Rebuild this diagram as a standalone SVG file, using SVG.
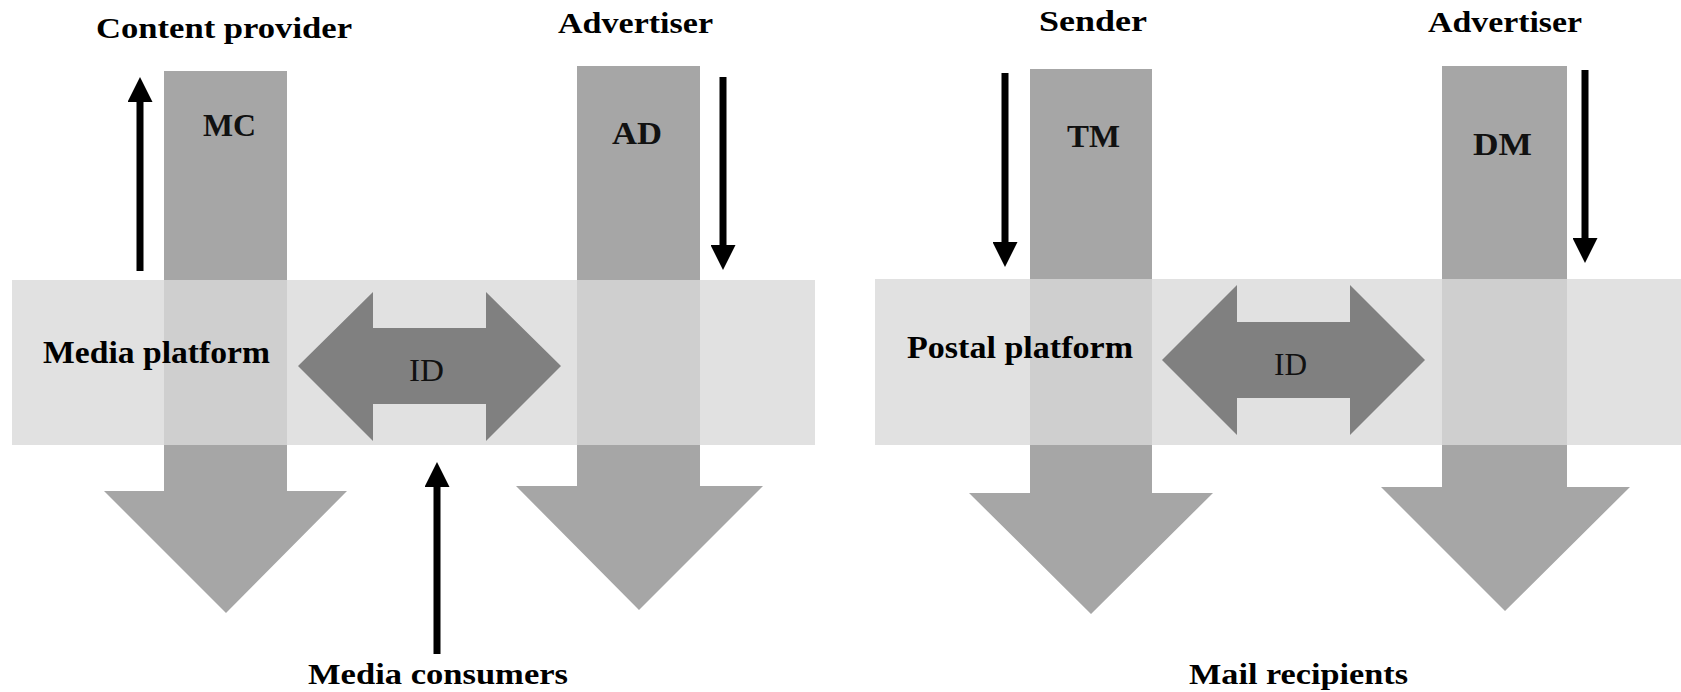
<svg xmlns="http://www.w3.org/2000/svg" width="1681" height="692" viewBox="0 0 1681 692">
<style>
.bar{fill:#a6a6a6}
.band{fill:#d9d9d9;fill-opacity:0.8}
.id{fill:#808080}
.lbl{font-family:"Liberation Serif",serif;font-weight:bold;font-size:30px;fill:#000}
.in{font-family:"Liberation Serif",serif;font-weight:bold;font-size:32px;fill:#111}
.idt{font-family:"Liberation Serif",serif;font-size:32px;fill:#111}
.arr{stroke:#000;stroke-width:7;fill:none}
</style>
<defs>
<marker id="ah" viewBox="0 0 25 25" markerWidth="25" markerHeight="25" refX="5" refY="12.5" orient="auto" markerUnits="userSpaceOnUse">
<path d="M0,0 L25,12.5 L0,25 z" fill="#000"/>
</marker>
</defs>
<rect width="1681" height="692" fill="#fff"/>

<g id="bar-mc"><path class="bar" d="M164,71 H287 V491 H347 L226,613 L104,491 H164 Z"/></g>
<g id="bar-ad"><path class="bar" d="M577,66 H700 V486 H763 L639,610 L516,486 H577 Z"/></g>
<g id="bar-tm"><path class="bar" d="M1030,69 H1152 V493 H1213 L1091,614 L969,493 H1030 Z"/></g>
<g id="bar-dm"><path class="bar" d="M1442,66 H1567 V487 H1630 L1505,611 L1381,487 H1442 Z"/></g>

<g id="media-platform">
<rect class="band" x="12" y="280" width="803" height="165"/>
<text class="lbl" x="43" y="363" textLength="227" lengthAdjust="spacingAndGlyphs" style="font-size:32px">Media platform</text>
</g>
<g id="postal-platform">
<rect class="band" x="875" y="279" width="806" height="166"/>
<text class="lbl" x="907" y="358" textLength="226" lengthAdjust="spacingAndGlyphs" style="font-size:32px">Postal platform</text>
</g>

<g id="id-left">
<path class="id" d="M298,366 L373,292 V328 H486 V292 L561,366 L486,441 V404 H373 V441 Z"/>
<text class="idt" x="409" y="381" textLength="35" lengthAdjust="spacingAndGlyphs">ID</text>
</g>
<g id="id-right">
<path class="id" d="M1162,360 L1237,285 V322 H1350 V285 L1425,360 L1350,435 V398 H1237 V435 Z"/>
<text class="idt" x="1274" y="375" textLength="33" lengthAdjust="spacingAndGlyphs">ID</text>
</g>

<g id="labels-bars">
<text class="in" x="203" y="136" textLength="53" lengthAdjust="spacingAndGlyphs">MC</text>
<text class="in" x="612" y="144" textLength="50" lengthAdjust="spacingAndGlyphs">AD</text>
<text class="in" x="1067" y="147" textLength="53" lengthAdjust="spacingAndGlyphs">TM</text>
<text class="in" x="1473" y="155" textLength="59" lengthAdjust="spacingAndGlyphs">DM</text>
</g>

<g id="content-provider"><text class="lbl" x="96" y="38" textLength="256" lengthAdjust="spacingAndGlyphs">Content provider</text></g>
<g id="advertiser-left"><text class="lbl" x="558" y="33" textLength="155" lengthAdjust="spacingAndGlyphs">Advertiser</text></g>
<g id="sender"><text class="lbl" x="1039" y="31" textLength="108" lengthAdjust="spacingAndGlyphs">Sender</text></g>
<g id="advertiser-right"><text class="lbl" x="1428" y="32" textLength="154" lengthAdjust="spacingAndGlyphs">Advertiser</text></g>
<g id="media-consumers"><text class="lbl" x="308" y="684" textLength="260" lengthAdjust="spacingAndGlyphs">Media consumers</text></g>
<g id="mail-recipients"><text class="lbl" x="1189" y="684" textLength="219" lengthAdjust="spacingAndGlyphs">Mail recipients</text></g>

<g id="connectors">
<line class="arr" x1="140" y1="271" x2="140" y2="97" marker-end="url(#ah)"/>
<line class="arr" x1="723" y1="77" x2="723" y2="250" marker-end="url(#ah)"/>
<line class="arr" x1="437" y1="654" x2="437" y2="482" marker-end="url(#ah)"/>
<line class="arr" x1="1005" y1="73" x2="1005" y2="247" marker-end="url(#ah)"/>
<line class="arr" x1="1585" y1="70" x2="1585" y2="243" marker-end="url(#ah)"/>
</g>
</svg>
